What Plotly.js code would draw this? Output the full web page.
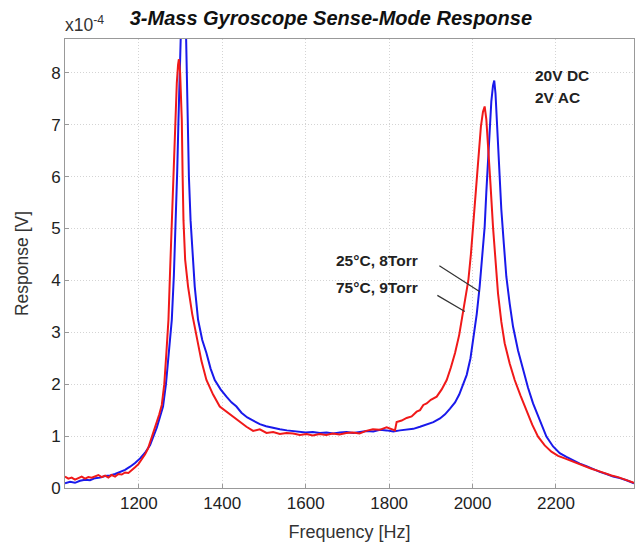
<!DOCTYPE html>
<html>
<head>
<meta charset="utf-8">
<script src="https://cdn.plot.ly/plotly-3.0.1.min.js"></script>
<style>html,body{margin:0;padding:0;background:#fff;}#chart{width:640px;height:542px;}</style>
</head>
<body>
<div id="chart"></div>
<script>
// Blue: 25°C, 8Torr (values in units of 1e-4 V)
const blueFreq = [1023,1035,1047,1059,1071,1083,1095,1107,1119,1131,1143,1155,1167,1179,1191,1203,1215,1227,1235,1243,1251,1258,1265,1272,1279,1284,1289,1292,1295,1299,1303,1307,1311,1313,1316,1320,1324,1329,1334,1342,1352,1362,1372,1382,1396,1410,1422,1434,1446,1460,1475,1490,1505,1520,1538,1555,1570,1586,1600,1617,1634,1650,1666,1682,1698,1714,1730,1746,1762,1778,1794,1810,1826,1842,1858,1874,1890,1906,1922,1934,1946,1958,1968,1977,1986,1995,2003,2010,2017,2023,2029,2033,2037,2041,2045,2049,2052,2055,2059,2064,2069,2075,2081,2089,2097,2109,2121,2133,2145,2161,2177,2193,2209,2225,2241,2257,2273,2289,2305,2321,2337,2353,2369,2387];
const blueResp = [0.09,0.12,0.10,0.14,0.16,0.15,0.19,0.20,0.23,0.24,0.27,0.31,0.35,0.41,0.48,0.57,0.68,0.83,0.98,1.16,1.38,1.57,2.0,2.6,3.24,4.1,5.16,6.1,7.09,8.63,9.9,10.6,9.6,8.63,7.09,6.0,5.16,4.4,3.88,3.24,2.85,2.6,2.3,2.08,1.9,1.76,1.65,1.57,1.45,1.36,1.30,1.23,1.19,1.16,1.13,1.11,1.10,1.08,1.07,1.08,1.06,1.07,1.05,1.07,1.08,1.06,1.08,1.10,1.09,1.12,1.11,1.09,1.11,1.12,1.14,1.18,1.22,1.27,1.34,1.42,1.53,1.65,1.80,1.98,2.18,2.5,2.92,3.35,3.88,4.4,5.03,5.7,6.32,6.95,7.45,7.75,7.85,7.6,6.96,6.1,5.36,4.7,4.07,3.55,3.11,2.65,2.27,1.93,1.63,1.30,0.99,0.80,0.67,0.60,0.53,0.47,0.42,0.36,0.31,0.27,0.22,0.19,0.15,0.09];

// Red: 75°C, 9Torr
const redFreq = [1023,1031,1039,1047,1055,1063,1071,1079,1087,1095,1103,1111,1119,1127,1135,1143,1151,1159,1167,1175,1183,1191,1199,1207,1215,1222,1227,1235,1242,1249,1255,1261,1266,1271,1275,1279,1283,1287,1291,1294,1296,1299,1301,1303,1305,1307,1311,1318,1328,1338,1350,1362,1378,1394,1418,1442,1458,1474,1490,1506,1522,1538,1554,1570,1586,1602,1617,1633,1649,1665,1681,1697,1713,1729,1745,1761,1777,1794,1806,1814,1818,1830,1842,1854,1866,1874,1882,1890,1900,1914,1926,1938,1948,1958,1968,1977,1984,1990,1996,2001,2006,2011,2016,2020,2025,2029,2033,2037,2043,2049,2055,2061,2069,2077,2089,2101,2115,2129,2143,2157,2173,2189,2205,2221,2237,2253,2269,2285,2301,2317,2333,2349,2365,2381,2387];
const redResp = [0.22,0.18,0.20,0.16,0.19,0.22,0.18,0.21,0.20,0.23,0.25,0.21,0.24,0.20,0.25,0.22,0.27,0.26,0.30,0.29,0.34,0.40,0.46,0.55,0.65,0.76,0.88,1.06,1.25,1.42,1.60,2.0,2.6,3.24,4.2,5.16,6.2,7.09,7.8,8.15,8.26,8.0,7.6,7.09,6.0,5.16,4.4,3.88,3.35,2.92,2.45,2.08,1.80,1.57,1.42,1.27,1.18,1.10,1.13,1.06,1.08,1.04,1.06,1.05,1.02,1.04,1.01,1.04,1.02,1.05,1.03,1.06,1.07,1.05,1.10,1.13,1.12,1.17,1.13,1.11,1.27,1.30,1.35,1.38,1.47,1.50,1.60,1.63,1.70,1.76,1.90,2.08,2.32,2.60,2.95,3.37,3.70,4.01,4.5,5.03,5.5,6.0,6.5,6.96,7.25,7.35,7.1,6.64,5.85,5.03,4.35,3.75,3.2,2.79,2.4,2.08,1.78,1.50,1.22,0.99,0.82,0.70,0.62,0.57,0.52,0.46,0.42,0.37,0.33,0.28,0.24,0.21,0.17,0.12,0.10];

const yTicks = [0,1,2,3,4,5,6,7,8];
const xTicks = [1200,1400,1600,1800,2000,2200];

const FONT = 'Liberation Sans, Arial, sans-serif';

const traces = [
  {x: blueFreq, y: blueResp, type: 'scatter', mode: 'lines', line: {color: 'rgb(25,25,235)', width: 2}, hoverinfo: 'skip'},
  {x: redFreq, y: redResp, type: 'scatter', mode: 'lines', line: {color: 'rgb(240,25,25)', width: 2}, hoverinfo: 'skip'}
];

const layout = {
  width: 640, height: 542,
  margin: {l: 65, r: 6, t: 39, b: 54},
  paper_bgcolor: '#fff', plot_bgcolor: '#fff',
  showlegend: false,
  font: {family: FONT, color: '#222'},
  title: {
    text: '<b><i>3-Mass Gyroscope Sense-Mode Response</i></b>',
    font: {family: FONT, size: 20, color: '#111'},
    x: 0.517, xref: 'container', xanchor: 'center',
    y: 0.967, yref: 'container', yanchor: 'middle'
  },
  xaxis: {
    range: [1023, 2387],
    tickvals: xTicks,
    ticktext: xTicks.map(String),
    ticks: 'inside', ticklen: 4, tickcolor: '#999',
    showline: true, mirror: true, linecolor: '#999', linewidth: 1,
    showgrid: true, gridcolor: '#d4d4d4', griddash: '1px,2px', gridwidth: 1,
    zeroline: false,
    tickfont: {family: FONT, size: 17, color: '#222'},
    title: {text: 'Frequency [Hz]', font: {family: FONT, size: 18, color: '#333'}, standoff: 14}
  },
  yaxis: {
    range: [0, 8.65],
    tickvals: yTicks,
    ticktext: yTicks.map(String),
    ticks: 'inside', ticklen: 4, tickcolor: '#999',
    showline: true, mirror: true, linecolor: '#999', linewidth: 1,
    showgrid: true, gridcolor: '#d4d4d4', griddash: '1px,2px', gridwidth: 1,
    zeroline: false,
    tickfont: {family: FONT, size: 17, color: '#222'},
    title: {text: 'Response [V]', font: {family: FONT, size: 17.5, color: '#333'}, standoff: 18}
  },
  annotations: [
    {text: 'x10<sup>-4</sup>', xref: 'paper', yref: 'paper', x: 0, y: 1, xanchor: 'left', yanchor: 'bottom', yshift: 2, xshift: -2, showarrow: false, font: {family: FONT, size: 17.5, color: '#333'}},
    {text: '<b>20V DC</b>', xref: 'paper', yref: 'paper', x: 0.823, y: 0.918, xanchor: 'left', yanchor: 'middle', showarrow: false, font: {family: FONT, size: 15.5, color: '#222'}},
    {text: '<b>2V AC</b>', xref: 'paper', yref: 'paper', x: 0.823, y: 0.870, xanchor: 'left', yanchor: 'middle', showarrow: false, font: {family: FONT, size: 15.5, color: '#222'}},
    {text: '<b>25°C, 8Torr</b>', xref: 'x', yref: 'y', x: 1772, y: 4.38, xanchor: 'center', yanchor: 'middle', showarrow: false, font: {family: FONT, size: 15.5, color: '#222'}},
    {text: '<b>75°C, 9Torr</b>', xref: 'x', yref: 'y', x: 1772, y: 3.87, xanchor: 'center', yanchor: 'middle', showarrow: false, font: {family: FONT, size: 15.5, color: '#222'}},
    {text: '', xref: 'x', yref: 'y', x: 2017.5, y: 3.78, showarrow: true, arrowhead: 0, arrowwidth: 1.2, arrowcolor: '#333', ax: -42, ay: -27, standoff: 0, startstandoff: 0},
    {text: '', xref: 'x', yref: 'y', x: 1981.5, y: 3.40, showarrow: true, arrowhead: 0, arrowwidth: 1.2, arrowcolor: '#333', ax: -29, ay: -17, standoff: 0, startstandoff: 0}
  ]
};

Plotly.newPlot('chart', traces, layout, {staticPlot: true, displayModeBar: false});
</script>
</body>
</html>
